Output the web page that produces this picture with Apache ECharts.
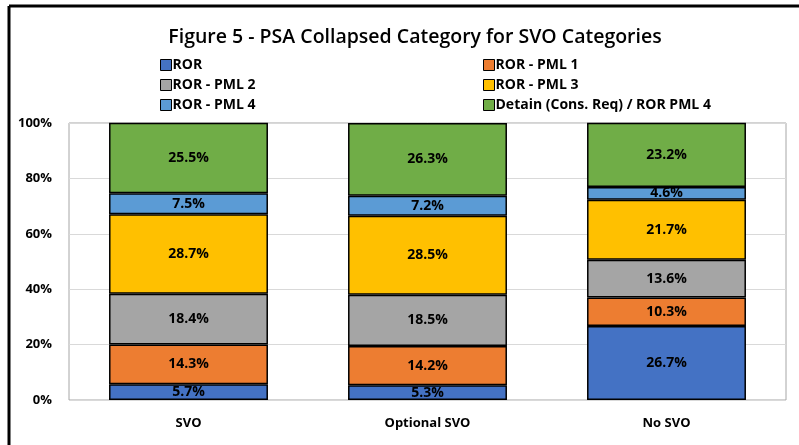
<!DOCTYPE html>
<html>
<head>
<meta charset="utf-8">
<script src="https://cdn.jsdelivr.net/npm/echarts@6/dist/echarts.min.js"></script>
<style>
  html, body { margin: 0; padding: 0; background: #fff; }
  #chart { width: 799px; height: 445px; }
</style>
</head>
<body>
<div id="chart"></div>
<script>
// chart data
const categories = ['SVO', 'Optional SVO', 'No SVO'];
const seriesNames = ['ROR', 'ROR - PML 1', 'ROR - PML 2', 'ROR - PML 3', 'ROR - PML 4', 'Detain (Cons. Req) / ROR PML 4'];
const ror = [5.7, 5.3, 26.7];
const rorPml1 = [14.3, 14.2, 10.3];
const rorPml2 = [18.4, 18.5, 13.6];
const rorPml3 = [28.7, 28.5, 21.7];
const rorPml4 = [7.5, 7.2, 4.6];
const detain = [25.5, 26.3, 23.2];
const yTicks = [0, 20, 40, 60, 80, 100];

const seriesValues = [ror, rorPml1, rorPml2, rorPml3, rorPml4, detain];
const colors = ['#4472C4', '#ED7D31', '#A5A5A5', '#FFC000', '#5B9BD5', '#70AD47'];
const font = '"Open Sans", "Liberation Sans", sans-serif';

const chart = echarts.init(document.getElementById('chart'));

const legendStyle = {
  orient: 'vertical',
  top: 53,
  itemWidth: 11,
  itemHeight: 11,
  itemGap: 6,
  icon: 'rect',
  textStyle: { fontFamily: font, fontSize: 14, fontWeight: 'bold', color: '#000', padding: [0, 0, 0, -4] },
  itemStyle: { borderColor: '#000', borderWidth: 1 }
};

chart.setOption({
  animation: false,
  title: {
    text: 'Figure 5 - PSA Collapsed Category for SVO Categories',
    left: 410,
    textAlign: 'center',
    top: 22,
    textStyle: { fontFamily: font, fontSize: 19.5, fontWeight: 600, color: '#000' }
  },
  legend: [
    Object.assign({ left: 155, data: [seriesNames[0], seriesNames[2], seriesNames[4]] }, legendStyle),
    Object.assign({ left: 478, data: [seriesNames[1], seriesNames[3], seriesNames[5]] }, legendStyle)
  ],
  grid: {
    left: 69, right: 13, top: 123, bottom: 45,
    show: true, borderColor: '#a6a6a6', borderWidth: 1
  },
  xAxis: {
    type: 'category',
    data: categories,
    axisLine: { show: false },
    axisTick: { show: false },
    axisLabel: { fontFamily: font, fontSize: 13, fontWeight: 'bold', color: '#000', margin: 17 }
  },
  yAxis: {
    type: 'value',
    min: yTicks[0],
    max: yTicks[yTicks.length - 1],
    interval: 20,
    axisLine: { show: false },
    axisTick: { show: false },
    splitLine: { lineStyle: { color: '#d9d9d9', width: 1 } },
    axisLabel: { fontFamily: font, fontSize: 13, fontWeight: 'bold', color: '#000', margin: 17, formatter: '{value}%' }
  },
  graphic: [
    { type: 'line', shape: { x1: 9, y1: 6, x2: 9, y2: 445 }, style: { stroke: '#000', lineWidth: 3 } },
    { type: 'line', shape: { x1: 9, y1: 6, x2: 799, y2: 6 }, style: { stroke: '#000', lineWidth: 3 } }
  ],
  series: seriesNames.map((name, i) => ({
    name: name,
    type: 'bar',
    stack: 'total',
    barWidth: '66.5%',
    data: seriesValues[i],
    itemStyle: { color: colors[i], borderColor: '#000', borderWidth: 1.5 },
    label: {
      show: true,
      position: 'inside',
      fontFamily: font,
      fontSize: 14,
      fontWeight: 'bold',
      color: '#000',
      formatter: p => p.value.toFixed(1) + '%'
    }
  }))
});
</script>
</body>
</html>
